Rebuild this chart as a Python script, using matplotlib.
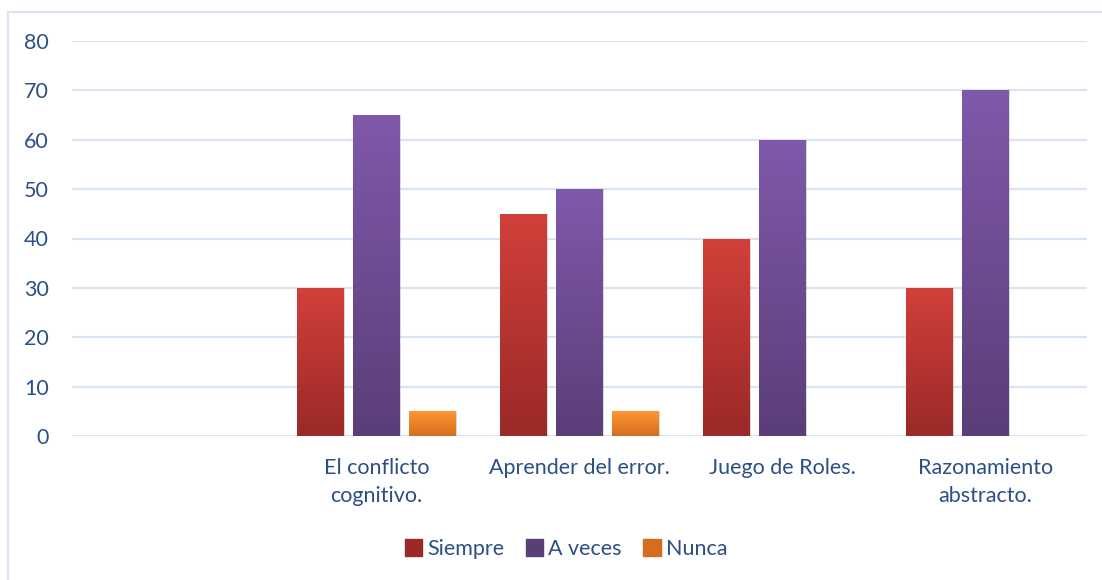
import matplotlib.pyplot as plt
import numpy as np
from matplotlib.colors import LinearSegmentedColormap
from matplotlib.patches import Rectangle
from matplotlib.lines import Line2D

categories = ["", "El conflicto\ncognitivo.", "Aprender del error.", "Juego de Roles.", "Razonamiento\nabstracto."]
series_names = ["Siempre", "A veces", "Nunca"]
siempre = [0, 30, 45, 40, 30]
a_veces = [0, 65, 50, 60, 70]
nunca = [0, 5, 5, 0, 0]
y_ticks = [0, 10, 20, 30, 40, 50, 60, 70, 80]

# (top colour, bottom colour) for each series
gradients = [("#d2403a", "#9a2927"), ("#8059aa", "#5a3e78"), ("#ff9632", "#d46e1e")]
text_color = "#2b4f86"
grid_color = "#d9e4f3"

plt.rcParams["font.family"] = ["Lato", "DejaVu Sans"]
fs = 15.5

W, H = 1102, 580
fig = plt.figure(figsize=(W / 100, H / 100), dpi=100)
ax = fig.add_axes([72 / W, (H - 436) / H, (1087 - 72) / W, (436 - 41) / H])

x = np.arange(len(categories))
width = 0.23
step = 0.276
values = [siempre, a_veces, nunca]

for i, (vals, (top, bottom)) in enumerate(zip(values, gradients)):
    cmap = LinearSegmentedColormap.from_list(f"g{i}", [bottom, top])
    pos = x + (i - 1) * step
    bars = ax.bar(pos, vals, width, color="none", edgecolor="none", zorder=3)
    for rect, v in zip(bars, vals):
        if v <= 0:
            continue
        x0 = rect.get_x()
        # soft shadow under the bar
        ax.add_patch(Rectangle((x0 + 0.006, -0.9), width, v + 0.9, color="#9a9a9a",
                               alpha=0.35, lw=0, zorder=2))
        img = ax.imshow(np.linspace(0, 1, 256).reshape(-1, 1), cmap=cmap, origin="lower",
                        extent=(x0, x0 + width, 0, v), aspect="auto", zorder=3)
        img.set_clip_path(rect)

ax.set_xlim(-0.5, len(categories) - 0.5)
ax.set_ylim(0, 80)
ax.set_yticks(y_ticks)
ax.yaxis.grid(True, color=grid_color, lw=1.6, zorder=1)
ax.set_axisbelow(True)
for s in ax.spines.values():
    s.set_visible(False)
ax.tick_params(axis="y", length=0, pad=16.5, labelsize=fs, labelcolor=text_color)
ax.set_xticks(x)
ax.set_xticklabels(categories, fontsize=fs, color=text_color, linespacing=1.5)
ax.tick_params(axis="x", length=0, pad=16)
ax.set_autoscale_on(False)

# outer chart frame (left and top edges visible)
fig.add_artist(Line2D([8 / W, 8 / W], [0, (H - 12) / H], color=grid_color, lw=1.5))
fig.add_artist(Line2D([8 / W, 1], [(H - 12) / H, (H - 12) / H], color=grid_color, lw=1.5))

handles = [Rectangle((0, 0), 1, 1, color=g[1]) for g in gradients]
fig.legend(handles, series_names, loc="center", bbox_to_anchor=(566 / W, (H - 549) / H),
           ncol=3, frameon=False, fontsize=fs, labelcolor=text_color,
           handlelength=0.8, handleheight=0.8, handletextpad=0.25, columnspacing=1.0)

fig.savefig("out.png", dpi=100)
